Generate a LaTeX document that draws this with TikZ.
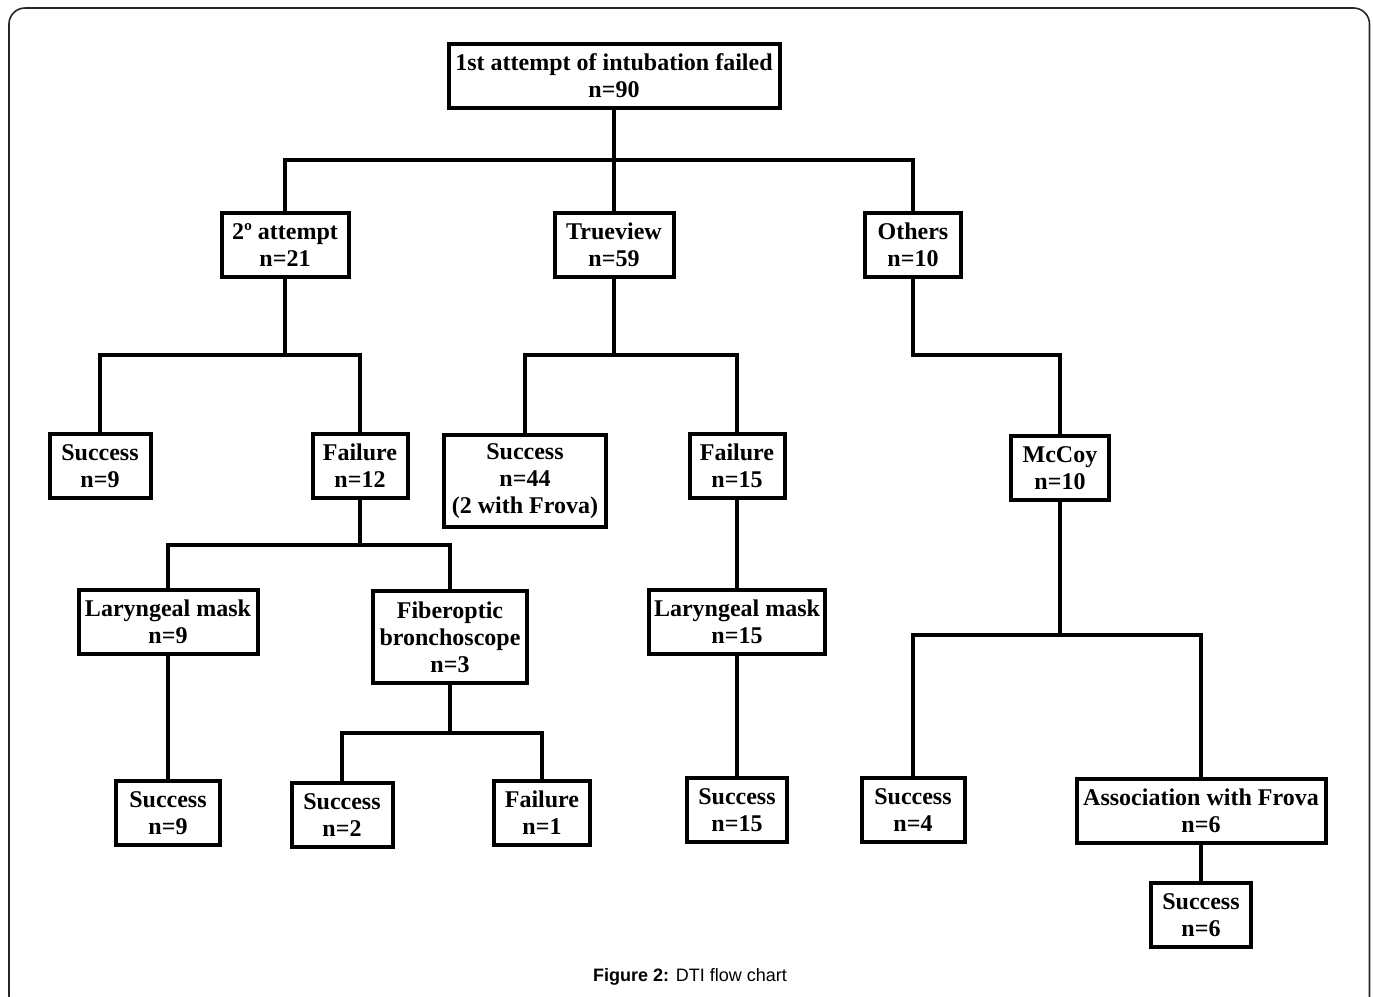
\documentclass[tikz,border=0pt]{standalone}
\usepackage{fontspec}
\setmainfont{Liberation Serif}
\setsansfont{Liberation Sans}
\usepackage{tikz}
\usetikzlibrary{positioning, calc}

\begin{document}
\begin{tikzpicture}[x=0.5pt, y=-0.5pt,
    box/.style={draw, line width=2pt, align=center, inner sep=2pt,
        minimum height=32pt, font=\bfseries\fontsize{12}{13.5}\selectfont},
    tall/.style={box, minimum height=46pt},
    link/.style={line width=2pt},
    frame/.style={line width=0.8pt, black!85, rounded corners=8pt}]
% Page and frame
\clip (0,0) rectangle (1373,997);
\fill[white] (0,0) rectangle (1373,997);
\draw[frame] (9,8) rectangle (1369.5,1012);

% Level 0 and 1
\node[box, minimum width=165.5pt] (top) at (614,76) {1st attempt of intubation failed\\n=90};
\node[box, minimum width=63.5pt] (att) at (285,245) {2º attempt\\n=21};
\node[box, minimum width=59.5pt] (tv) at (614,245) {Trueview\\n=59};
\node[box, minimum width=48pt] (oth) at (913,245) {Others\\n=10};

% Level 2
\node[box, minimum width=50.5pt] (ok1) at (100,466) {Success\\n=9};
\node[box, minimum width=47.5pt] (fl1) at (360,466) {Failure\\n=12};
\node[tall, minimum width=81pt] (ok2) at (525,481) {Success\\n=44\\(2 with Frova)};
\node[box, minimum width=47.5pt] (fl2) at (737,466) {Failure\\n=15};
\node[box, minimum width=49pt] (mcc) at (1060,468) {McCoy\\n=10};

% Level 3
\node[box, minimum width=89.5pt] (lm1) at (168,622) {Laryngeal mask\\n=9};
\node[tall, minimum width=77pt] (fib) at (450,637) {Fiberoptic\\bronchoscope\\n=3};
\node[box, minimum width=88pt] (lm2) at (737,622) {Laryngeal mask\\n=15};

% Level 4
\node[box, minimum width=52pt] (ok3) at (168,813) {Success\\n=9};
\node[box, minimum width=50.5pt] (ok4) at (342,815) {Success\\n=2};
\node[box, minimum width=48pt] (fl3) at (542,813) {Failure\\n=1};
\node[box, minimum width=50pt] (ok6) at (737,810) {Success\\n=15};
\node[box, minimum width=51.5pt] (ok5) at (913,810) {Success\\n=4};
\node[box, minimum width=124.5pt] (asc) at (1201,811) {Association with Frova\\n=6};
\node[box, minimum width=50pt] (ok7) at (1201,915) {Success\\n=6};

% Connectors
\draw[link] (top.south) -- ++(0,50) coordinate (b1);
\draw[link] (att.north) |- (b1) -| (oth.north);
\draw[link] (b1) -- (tv.north);

\draw[link] (att.south) -- ++(0,76) coordinate (b2);
\draw[link] (ok1.north) |- (b2) -| (fl1.north);
\draw[link] (tv.south) -- ++(0,76) coordinate (b3);
\draw[link] (ok2.north) |- (b3) -| (fl2.north);
\draw[link] (oth.south) -- ++(0,76) -| (mcc.north);

\draw[link] (fl1.south) -- ++(0,45) coordinate (b4);
\draw[link] (lm1.north) |- (b4) -| (fib.north);
\draw[link] (fl2.south) -- (lm2.north);
\draw[link] (mcc.south) -- ++(0,133) coordinate (b5);
\draw[link] (ok5.north) |- (b5) -| (asc.north);

\draw[link] (lm1.south) -- (ok3.north);
\draw[link] (fib.south) -- ++(0,48) coordinate (b6);
\draw[link] (ok4.north) |- (b6) -| (fl3.north);
\draw[link] (lm2.south) -- (ok6.north);
\draw[link] (asc.south) -- (ok7.north);

% Caption
\node[font=\sffamily\fontsize{9}{11}\selectfont] (cap) at (690,977) {\textbf{Figure 2:} DTI flow chart};
\end{tikzpicture}
\end{document}
